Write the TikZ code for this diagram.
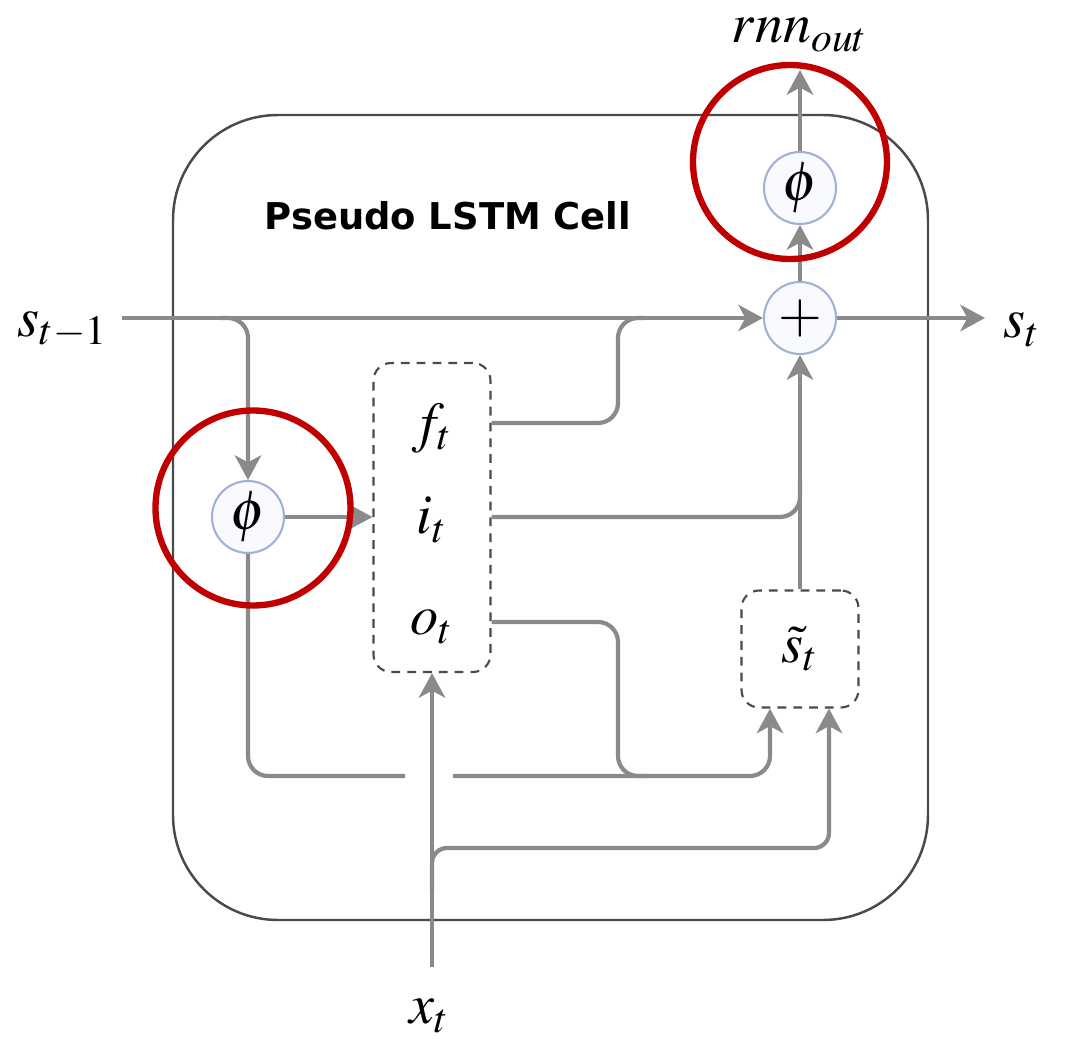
\documentclass[tikz,border=0pt]{standalone}
\usepackage{fontspec}
\newfontfamily\titlefont{DejaVu Sans}
\usepackage{mathptmx}
\usetikzlibrary{arrows.meta,positioning}
\definecolor{CellLine}{HTML}{8A8A8A}
\definecolor{CellFrame}{HTML}{4A4A4A}
\definecolor{OpEdge}{HTML}{9FB2D6}
\definecolor{OpFill}{HTML}{F9FAFD}
\definecolor{MarkRed}{HTML}{C00000}
\tikzset{
  wire/.style={CellLine,line width=1.2pt},
  flow/.style={wire,-{Stealth[length=7pt,width=7.5pt,inset=2pt]}},
  opcirc/.style={circle,draw=OpEdge,fill=OpFill,line width=0.6pt,minimum size=0.72cm,inner sep=0pt},
  gatebox/.style={draw=CellFrame,dash pattern=on 2.5pt off 2pt,rounded corners=5pt,line width=0.6pt},
  markring/.style={MarkRed,line width=1.8pt},
}

\begin{document}
\begin{tikzpicture}[font=\fontsize{16}{19}\selectfont]
\useasboundingbox (0,0) rectangle (10.70,10.38);
% cell frame
\draw[CellFrame,line width=0.7pt,rounded corners=1.05cm] (1.73,1.18) rectangle (9.28,9.23);
\node[font=\titlefont\fontsize{10.5}{12}\selectfont\bfseries] (title) at (4.48,8.22) {Pseudo LSTM Cell};

% operators and gates
\node[opcirc] (plus) at (8.00,7.20) {$+$};
\node[opcirc] (phitop) at (8.00,8.50) {$\phi$};
\node[opcirc] (phileft) at (2.48,5.21) {$\phi$};
\node[gatebox,minimum width=1.17cm,minimum height=3.09cm] (gates) at (4.32,5.205) {};
\foreach \y/\lab/\nm in {6.10/f_t/ft,5.18/i_t/it,4.11/o_t/ot}
  \node (\nm) at (4.32,\y) {$\lab$};
\node[gatebox,minimum width=1.17cm,minimum height=1.17cm] (stil) at (8.00,3.89) {$\tilde{s}_t$};

% inputs and outputs
\node (sprev) at (0.63,7.08) {$s_{t-1}$};
\node (snext) at (10.22,7.08) {$s_t$};
\node (rnn) at (8.00,10.03) {$rnn_{out}$};
\node (xin) at (4.30,0.22) {$x_t$};
\coordinate (sin) at (1.22,7.20);
\coordinate (sout) at (9.85,7.20);
\coordinate (rout) at (8.00,9.68);
\coordinate (xbot) at (4.32,0.71);
\coordinate (gapL) at (4.05,2.62);
\coordinate (gapR) at (4.53,2.62);

% connectors
\draw[flow] (sin) -- (plus);
\draw[flow] (plus) -- (sout);
\draw[flow] (plus) -- (phitop);
\draw[flow] (phitop) -- (rout);
\draw[flow,rounded corners=0.2cm] (2.20,7.20) -| (phileft);
\draw[flow] (phileft) -- (gates.west |- phileft);
\draw[wire,rounded corners=0.2cm] (phileft) |- (gapL);
\draw[flow,rounded corners=0.2cm] (gapR) -| ([xshift=-0.30cm]stil.south);
\draw[wire,rounded corners=0.2cm] (gates.east |- 0,6.15) -| (6.18,7.20) -- (6.45,7.20);
\draw[wire,rounded corners=0.2cm] (gates.east |- 0,5.21) -| (8.00,5.60);
\draw[flow] (stil) -- (plus);
\draw[wire,rounded corners=0.2cm] (gates.east |- 0,4.16) -| (6.18,2.62) -- (6.45,2.62);
\draw[flow] (xbot) -- (gates);
\draw[flow,rounded corners=0.15cm] (4.32,1.45) |- (6.00,1.90) -| ([xshift=0.29cm]stil.south);

% highlight rings
\draw[markring] (2.53,5.30) circle (0.975);
\draw[markring] (7.90,8.76) circle (0.97);
\end{tikzpicture}
\end{document}
